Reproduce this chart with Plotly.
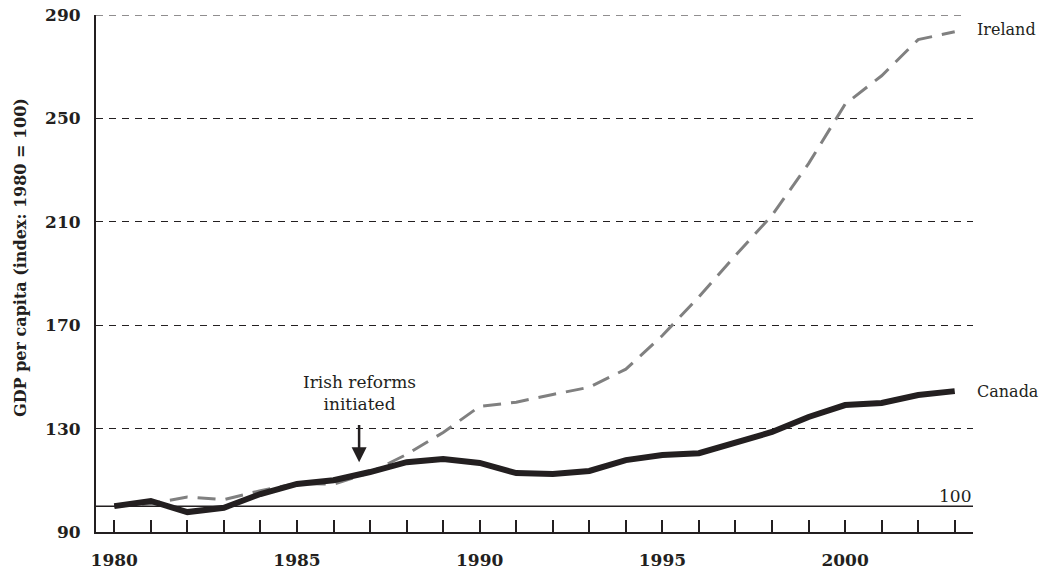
import plotly.graph_objects as go

years = list(range(1980, 2004))
canada = [100, 102, 97.7, 99.4, 104.7, 108.6, 110, 113.2, 117, 118.2, 116.7, 112.8,
          112.4, 113.6, 117.8, 119.8, 120.5, 124.4, 128.7, 134.5, 139.1, 139.9, 143, 144.5]
ireland = [100, 101, 103.5, 102.5, 106, 108.8, 108.5, 113, 120, 128.5, 138.6, 140.2,
           143.2, 146, 153, 166, 181, 197, 212.5, 232.5, 255.5, 266.5, 280.5, 283.5]
y_ticks = [90, 130, 170, 210, 250, 290]
x_labels = [str(y) if y % 5 == 0 else "" for y in years]

SERIF = "DejaVu Serif"
INK = "#231f20"

fig = go.Figure()
fig.add_trace(go.Scatter(x=years, y=ireland, mode="lines", name="Ireland",
                         line=dict(color="#808080", width=3, dash="18px,10px")))
fig.add_trace(go.Scatter(x=years, y=canada, mode="lines", name="Canada",
                         line=dict(color=INK, width=6)))

fig.add_hline(y=100, line=dict(color=INK, width=1.5))
fig.add_shape(type="line", xref="paper", yref="y", x0=0, x1=0.993,
              y0=y_ticks[-1], y1=y_ticks[-1], line=dict(color=INK, width=1, dash="7px,6px"))

fig.add_annotation(x=2003.5, y=100, text="100", showarrow=False, xanchor="right",
                   yanchor="bottom", yshift=-2, font=dict(family=SERIF, size=17, color=INK))
fig.add_annotation(x=years[-1], y=ireland[-1], text="Ireland", showarrow=False, xanchor="left",
                   xshift=20, yshift=2, font=dict(family=SERIF, size=16, color=INK))
fig.add_annotation(x=years[-1], y=canada[-1], text="Canada", showarrow=False, xanchor="left",
                   xshift=20, font=dict(family=SERIF, size=16, color=INK))
fig.add_annotation(x=1986.7, y=117, ax=1986.7, ay=132, xref="x", yref="y",
                   axref="x", ayref="y", text="", showarrow=True, arrowhead=2,
                   arrowsize=1.2, arrowwidth=2.5, arrowcolor=INK)
fig.add_annotation(x=1986.7, y=135, text="Irish reforms<br>initiated", showarrow=False,
                   yanchor="bottom", font=dict(family=SERIF, size=17, color=INK))
fig.add_annotation(x=0, xref="paper", y=196, yref="y", xshift=-75, textangle=-90,
                   text="GDP per capita (index: 1980 = 100)", showarrow=False,
                   xanchor="center", yanchor="middle",
                   font=dict(family=SERIF, size=16, color=INK, weight="bold"))

fig.update_layout(
    width=1045, height=577,
    margin=dict(l=96, r=72, t=15, b=45, autoexpand=False),
    paper_bgcolor="white", plot_bgcolor="white",
    showlegend=False,
    xaxis=dict(range=[1979.5, 2003.5], tickvals=years, ticktext=x_labels,
               ticks="inside", ticklen=12, tickwidth=2, tickcolor=INK,
               showline=True, linecolor=INK, linewidth=2, showgrid=False, zeroline=False,
               automargin=False, ticklabeloverflow="allow",
               tickfont=dict(family=SERIF, size=17, color=INK, weight="bold"),
               ticklabelstandoff=12),
    yaxis=dict(range=[90, 290], tickvals=y_ticks, ticks="", showline=True,
               linecolor=INK, linewidth=2, showgrid=True, gridcolor=INK, gridwidth=1,
               griddash="7px,6px", zeroline=False, automargin=False,
               ticklabeloverflow="allow",
               tickfont=dict(family=SERIF, size=17, color=INK, weight="bold"),
               ticklabelstandoff=10),
)

fig.write_html("out.html", config={"displayModeBar": False},
               post_script="document.body.style.margin='0';")
